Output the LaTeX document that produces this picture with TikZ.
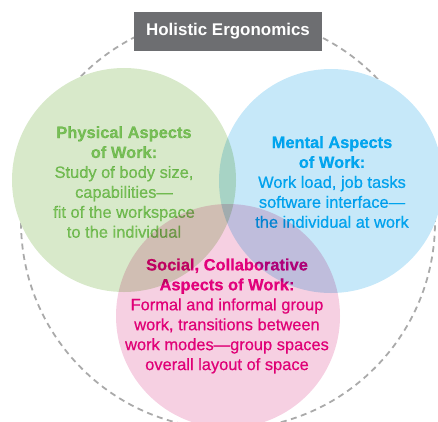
\documentclass[tikz,border=0pt]{standalone}
\usepackage{fontspec}
\setmainfont{Liberation Sans}
\newfontfamily\mediumfont{Liberation Sans}[FakeBold=0.5, Ligatures=TeX]
\usepackage{tikz}
\usepackage{xcolor}
\usetikzlibrary{shapes}

\definecolor{fillgreen}{RGB}{216,233,202}
\definecolor{fillblue}{RGB}{198,232,249}
\definecolor{fillpink}{RGB}{246,208,226}
\definecolor{textgreen}{RGB}{142,210,110}
\definecolor{textblue}{RGB}{0,186,245}
\definecolor{textpink}{RGB}{236,0,145}
\definecolor{titlegray}{RGB}{109,110,113}
\definecolor{dashgray}{RGB}{170,170,170}

\tikzset{
    aspect/.style={circle, minimum size=224bp, inner sep=0pt},
    aspecttext/.style={align=center, inner sep=0pt, font=\fontsize{16.5}{20}\mediumfont}
}

\begin{document}
\begin{tikzpicture}[x=1bp, y=1bp]
                        \clip (0, 0) rectangle (438, 421);

                        \draw[dashgray, line width=1.8pt, dash pattern=on 6bp off 4.5bp] (228, 199) circle (207);

                        \begin{scope}[blend group=multiply]
                        \node[aspect, fill=fillgreen] (physical) at (124, 241) {};
                        \node[aspecttext, text=textgreen] (physical text) at (124, 239)
                            {\textbf{Physical Aspects}\\ \textbf{of Work:}\\ Study of body size,\\ capabilities—\\ fit of the workspace\\ to the individual};
                        \node[aspect, fill=fillblue] (mental) at (331, 240) {};
                        \node[aspecttext, text=textblue] (mental text) at (332, 239)
                            {\textbf{Mental Aspects}\\ \textbf{of Work:}\\ Work load, job tasks\\ software interface—\\ the individual at work};
                        \node[aspect, fill=fillpink] (social) at (228, 105) {};
                        \node[aspecttext, text=textpink] (social text) at (227, 105)
                            {\textbf{Social, Collaborative}\\ \textbf{Aspects of Work:}\\ Formal and informal group\\ work, transitions between\\ work modes—group spaces\\ overall layout of space};
                        \end{scope}

                        \node[fill=titlegray, text=white, minimum width=188bp, minimum height=39bp,
                            font=\fontsize{17}{20}\selectfont\bfseries] (title) at (228, 389.5) {Holistic Ergonomics};
                    \end{tikzpicture}
\end{document}
